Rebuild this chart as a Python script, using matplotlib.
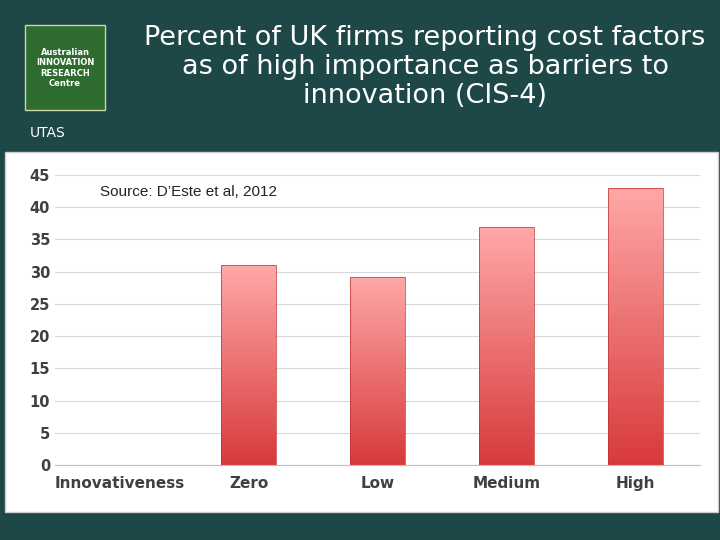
import matplotlib
matplotlib.use("Agg")
import matplotlib.pyplot as plt
import numpy as np
from matplotlib.patches import Rectangle
from matplotlib.colors import LinearSegmentedColormap

categories = ["Innovativeness", "Zero", "Low", "Medium", "High"]
values = [np.nan, 31.0, 29.2, 36.9, 43.0]
yticks = [0, 5, 10, 15, 20, 25, 30, 35, 40, 45]

fig = plt.figure(figsize=(7.2, 5.4), dpi=100)
fig.patch.set_facecolor("#1e4848")

fig.patches.append(Rectangle((5/720, 1-512/540), 713/720, 360/540, transform=fig.transFigure,
                             facecolor="white", edgecolor="#cccccc", zorder=-5))
fig.patches.append(Rectangle((25/720, 1-110/540), 80/720, 85/540, transform=fig.transFigure,
                             facecolor="#2e6b2e", edgecolor="#c8d8a0", lw=1, zorder=-5))
fig.text(65/720, 1-68/540, "Australian\nINNOVATION\nRESEARCH\nCentre", color="white",
         ha="center", va="center", fontsize=6, fontweight="bold", linespacing=1.2)
fig.text(30/720, 1-133/540, "UTAS", color="white", fontsize=10, va="center")

fig.text(425/720, 1-67/540,
         "Percent of UK firms reporting cost factors\nas of high importance as barriers to\ninnovation (CIS-4)",
         color="white", ha="center", va="center", fontsize=19.5, family="DejaVu Sans", linespacing=1.15)

ax = fig.add_axes([55/720, 1-465/540, 645/720, 290/540])
ax.set_facecolor("white")
x = np.arange(len(categories))
grad = np.linspace(0, 1, 256).reshape(-1, 1)
cmap = LinearSegmentedColormap.from_list("r", ["#d83a3a", "#ffa8a8"])
bars = ax.bar(x, np.nan_to_num(values), width=0.42, color="none", edgecolor="#c03030", lw=0.5, zorder=3)
for b, v in zip(bars, values):
    if np.isnan(v):
        continue
    im = ax.imshow(grad, cmap=cmap, aspect="auto", origin="lower",
                   extent=[b.get_x(), b.get_x()+b.get_width(), 0, v], zorder=2)
    im.set_clip_path(b)
ax.set_xlim(-0.5, len(categories)-0.5)
ax.set_ylim(0, 45)
ax.set_yticks(yticks)
ax.set_xticks(x)
ax.set_xticklabels(categories, fontsize=11, fontweight="bold", color="#404040")
ax.tick_params(axis="y", labelsize=10.5, labelcolor="#404040", length=0)
for t in ax.get_yticklabels():
    t.set_fontweight("bold")
ax.tick_params(axis="x", length=0, pad=8)
ax.grid(axis="y", color="#d9d9d9", lw=0.8, zorder=0)
ax.set_axisbelow(True)
for s in ["top", "right", "left"]:
    ax.spines[s].set_visible(False)
ax.spines["bottom"].set_color("#bfbfbf")
ax.text(0.07, 0.94, "Source: D\u2019Este et al, 2012", transform=ax.transAxes, fontsize=11,
        va="center", color="#222222", family="Liberation Sans")

fig.savefig("out.png", dpi=100, facecolor=fig.get_facecolor())
